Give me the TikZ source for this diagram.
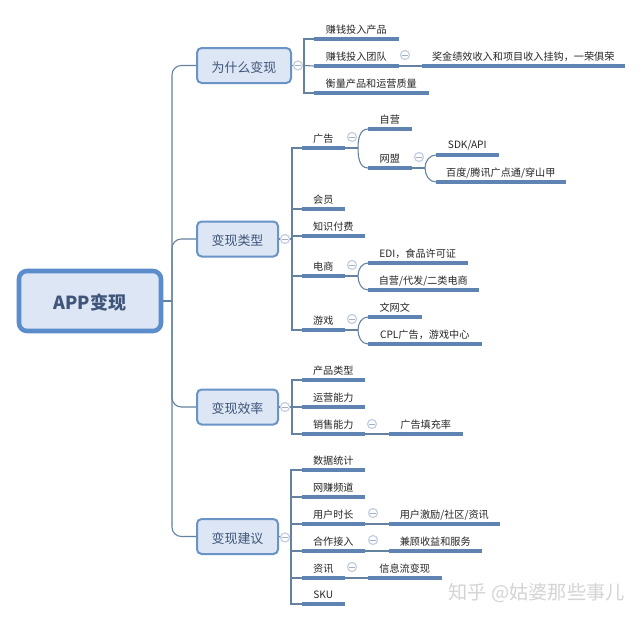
\documentclass[tikz,border=0pt]{standalone}
\usepackage{fontspec}
\setmainfont{Noto Sans CJK SC}
\definecolor{boxfill}{HTML}{DCE6F4}
\definecolor{boxline}{HTML}{6A93C6}
\definecolor{rootline}{HTML}{5B8CCB}
\definecolor{boxtext}{HTML}{3F5579}
\definecolor{linkline}{HTML}{64829F}
\definecolor{barline}{HTML}{5F83B3}
\definecolor{ringline}{HTML}{C3CEE2}
\begin{document}
\begin{tikzpicture}[x=0.75pt, y=-0.75pt,
    len/.style={minimum width=#1*0.75pt},
    rootbox/.style={draw=rootline, fill=boxfill, line width=3.4pt, rounded corners=6pt, text=boxtext,
        inner sep=0pt, text height=13pt, text depth=0pt, minimum width=142*0.75pt, minimum height=60*0.75pt, font=\fontsize{13.5}{15}\selectfont\bfseries},
    mainbox/.style={draw=boxline, fill=boxfill, line width=1.5pt, rounded corners=3.5pt, text=boxtext,
        inner sep=0pt, text height=10pt, text depth=0pt, minimum height=35*0.75pt, font=\fontsize{9.7}{12}\selectfont},
    leaf/.style={anchor=south west, inner sep=0pt, minimum height=18*0.75pt, text=black!85, font=\fontsize{7.6}{9}\selectfont,
        append after command={(\tikzlastnode.south west) edge[leafbar] (\tikzlastnode.south east)}},
    leafbar/.style={draw=barline, line width=2.3pt},
    link/.style={draw=linkline, line width=0.8pt},
    trunklink/.style={link, rounded corners=7pt},
    fold/.style={circle, draw=ringline, fill=white, line width=0.9pt, inner sep=0pt, minimum size=9*0.75pt,
        path picture={\draw[ringline!85!black, line width=0.5pt] ([xshift=-2pt]path picture bounding box.center) -- ([xshift=2pt]path picture bounding box.center);}},
    wmtext/.style={text=black!17, inner sep=0pt, font=\fontsize{14.4}{16}\selectfont}]
    \path[use as bounding box, fill=white] (0,0) rectangle (642,621);

    % root and main topics
    \node[rootbox] (root) at (90,301) {APP变现};
    \node[mainbox, len=94] (why) at (244,65.5) {为什么变现};
    \node[mainbox, len=81] (kind) at (237.5,239) {变现类型};
    \node[mainbox, len=81] (rate) at (237.5,407) {变现效率};
    \node[mainbox, len=81] (tips) at (237.5,536.5) {变现建议};

    \coordinate (rootj) at (172,301);
    \draw[link] (root.east) -- (rootj);
    \draw[trunklink] (rootj) |- (why.west);
    \draw[trunklink] (rootj) |- (kind.west);
    \draw[trunklink] (rootj) |- (rate.west);
    \draw[trunklink] (rootj) |- (tips.west);

    % why
    \node[leaf, len=84] (whya) at (314,39) {赚钱投入产品};
    \node[leaf, len=84] (whyb) at (314,66) {赚钱投入团队};
    \node[leaf, len=114] (whyc) at (314,93) {衡量产品和运营质量};
    \node[leaf, len=202] (whyd) at (422,66) {奖金绩效收入和项目收入挂钩，一荣俱荣};
    \coordinate (whyj) at (304,65.5);
    \draw[link] (why.east) -- (whyj);
    \draw[link] (whyj) |- (whya.south west);
    \draw[link] (whyj) |- (whyc.south west);
    \draw[link] (whyj) -- (whyb.south west);
    \draw[link] (whyb.south east) -- (whyd.south west);
    \node[fold] (whyf) at (298,65.5) {};
    \node[fold] (whybf) at (405,55) {};

    % kind
    \node[leaf, len=42] (ad) at (302,148) {广告};
    \node[leaf, len=42] (vip) at (302,209) {会员};
    \node[leaf, len=62] (pay) at (302,236) {知识付费};
    \node[leaf, len=42] (shop) at (302,276) {电商};
    \node[leaf, len=42] (game) at (302,330) {游戏};
    \coordinate (kindj) at (292,239);
    \draw[link] (kind.east) -- (kindj);
    \draw[link] (kindj) |- (ad.south west);
    \draw[link] (kindj) |- (vip.south west);
    \draw[link] (kindj) |- (pay.south west);
    \draw[link] (kindj) |- (shop.south west);
    \draw[link] (kindj) |- (game.south west);
    \node[fold] (kindf) at (285,239) {};

    \node[leaf, len=43] (adself) at (368,129) {自营};
    \node[leaf, len=43] (adnet) at (368,168) {网盟};
    \node[leaf, len=62] (sdk) at (436,155) {SDK/API};
    \node[leaf, len=129] (bd) at (436,182) {百度/腾讯广点通/穿山甲};
    \coordinate (adj) at (358,148);
    \coordinate (netj) at (425,168);
    \draw[link] (ad.south east) -- (adj);
    \draw[link] (adj) to[out=90,in=180] (adself.south west);
    \draw[link] (adj) to[out=-90,in=180] (adnet.south west);
    \draw[link] (adnet.south east) -- (netj);
    \draw[link] (netj) to[out=90,in=180] (sdk.south west);
    \draw[link] (netj) to[out=-90,in=180] (bd.south west);
    \node[fold] (adf) at (352,137) {};
    \node[fold] (netf) at (419,157) {};

    \node[leaf, len=99] (edi) at (368,263) {EDI，食品许可证};
    \node[leaf, len=110] (daifa) at (368,290) {自营/代发/二类电商};
    \coordinate (shopj) at (358,276);
    \draw[link] (shop.south east) -- (shopj);
    \draw[link] (shopj) to[out=90,in=180] (edi.south west);
    \draw[link] (shopj) to[out=-90,in=180] (daifa.south west);
    \node[fold] (shopf) at (352,265) {};

    \node[leaf, len=53] (wen) at (368,317) {文网文};
    \node[leaf, len=113] (cpl) at (368,344) {CPL广告，游戏中心};
    \coordinate (gamej) at (358,330);
    \draw[link] (game.south east) -- (gamej);
    \draw[link] (gamej) to[out=90,in=180] (wen.south west);
    \draw[link] (gamej) to[out=-90,in=180] (cpl.south west);
    \node[fold] (gamef) at (352,319) {};

    % rate
    \node[leaf, len=62] (ratea) at (302,380) {产品类型};
    \node[leaf, len=62] (rateb) at (302,407) {运营能力};
    \node[leaf, len=62] (ratec) at (302,434) {销售能力};
    \node[leaf, len=73] (rated) at (389,434) {广告填充率};
    \coordinate (ratej) at (292,407);
    \draw[link] (rate.east) -- (ratej);
    \draw[link] (ratej) |- (ratea.south west);
    \draw[link] (ratej) |- (ratec.south west);
    \draw[link] (ratej) -- (rateb.south west);
    \draw[link] (ratec.south east) -- (rated.south west);
    \node[fold] (ratef) at (285,407) {};
    \node[fold] (ratecf) at (372,424) {};

    % tips
    \node[leaf, len=62] (tipa) at (302,470) {数据统计};
    \node[leaf, len=62] (tipb) at (302,497) {网赚频道};
    \node[leaf, len=62] (tipc) at (302,524) {用户时长};
    \node[leaf, len=62] (tipd) at (302,551) {合作接入};
    \node[leaf, len=42] (tipe) at (302,578) {资讯};
    \node[leaf, len=42] (tipf) at (302,604) {SKU};
    \node[leaf, len=110] (tipg) at (389,524) {用户激励/社区/资讯};
    \node[leaf, len=92] (tiph) at (389,551) {兼顾收益和服务};
    \node[leaf, len=73] (tipi) at (368,578) {信息流变现};
    \coordinate (tipj) at (291,537);
    \draw[link] (tips.east) -- (tipj);
    \draw[link] (tipj) |- (tipa.south west);
    \draw[link] (tipj) |- (tipb.south west);
    \draw[link] (tipj) |- (tipc.south west);
    \draw[link] (tipj) |- (tipd.south west);
    \draw[link] (tipj) |- (tipe.south west);
    \draw[link] (tipj) |- (tipf.south west);
    \draw[link] (tipc.south east) -- (tipg.south west);
    \draw[link] (tipd.south east) -- (tiph.south west);
    \draw[link] (tipe.south east) -- (tipi.south west);
    \node[fold] (tipsf) at (285,537.5) {};
    \node[fold] (tipcf) at (373,513) {};
    \node[fold] (tipdf) at (373,540) {};
    \node[fold] (tipef) at (352,567) {};

    \node[wmtext, anchor=east] (wm) at (625,593) {知乎 @姑婆那些事儿};
\end{tikzpicture}
\end{document}
